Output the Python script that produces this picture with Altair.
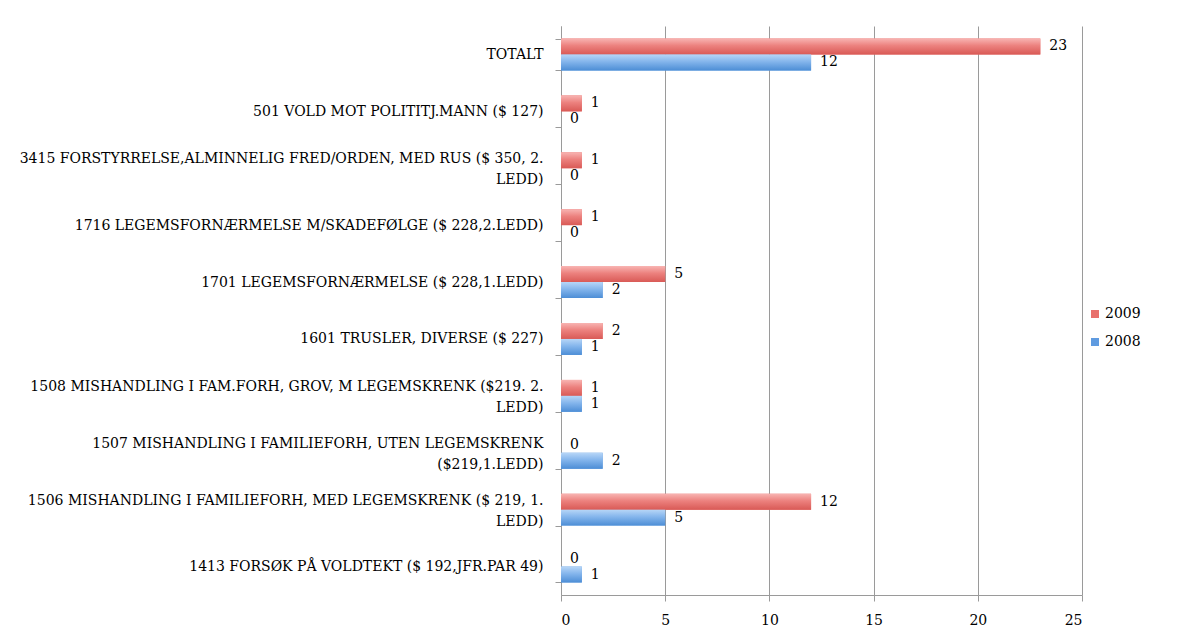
import altair as alt
import pandas as pd

categories = [
    "TOTALT",
    "501 VOLD MOT POLITITJ.MANN ($ 127)",
    "3415 FORSTYRRELSE,ALMINNELIG FRED/ORDEN, MED RUS ($ 350, 2.|LEDD)",
    "1716 LEGEMSFORNÆRMELSE M/SKADEFØLGE ($ 228,2.LEDD)",
    "1701 LEGEMSFORNÆRMELSE ($ 228,1.LEDD)",
    "1601 TRUSLER, DIVERSE ($ 227)",
    "1508 MISHANDLING I FAM.FORH, GROV, M LEGEMSKRENK ($219. 2.|LEDD)",
    "1507 MISHANDLING I FAMILIEFORH, UTEN LEGEMSKRENK|($219,1.LEDD)",
    "1506 MISHANDLING I FAMILIEFORH, MED LEGEMSKRENK ($ 219, 1.|LEDD)",
    "1413 FORSØK PÅ VOLDTEKT ($ 192,JFR.PAR 49)",
]
values_2009 = [23, 1, 1, 1, 5, 2, 1, 0, 12, 0]
values_2008 = [12, 0, 0, 0, 2, 1, 1, 2, 5, 1]
years = ["2009", "2008"]
x_ticks = [0, 5, 10, 15, 20, 25]

rows = []
for c, v9, v8 in zip(categories, values_2009, values_2008):
    rows.append({"category": c, "year": "2009", "value": v9})
    rows.append({"category": c, "year": "2008", "value": v8})
df = pd.DataFrame(rows)

FONT = "DejaVu Serif"
FS = 14
GRAY = "#9a9a9a"

red_grad = alt.Gradient(
    gradient="linear", x1=0, y1=0, x2=0, y2=1,
    stops=[alt.GradientStop(color="#f8b4b2", offset=0),
           alt.GradientStop(color="#ec817e", offset=0.45),
           alt.GradientStop(color="#d95a56", offset=1)],
)
blue_grad = alt.Gradient(
    gradient="linear", x1=0, y1=0, x2=0, y2=1,
    stops=[alt.GradientStop(color="#b7d6f7", offset=0),
           alt.GradientStop(color="#84b5ec", offset=0.45),
           alt.GradientStop(color="#4d8ed6", offset=1)],
)

yscale = alt.Scale(paddingInner=0.44, paddingOuter=0.22)

axis_single = alt.Axis(
    orient="left",
    labelExpr="indexof(datum.label, '|') >= 0 ? '' : datum.label",
    labelFont=FONT, labelFontSize=FS, labelColor="#000",
    labelLimit=0, labelPadding=12,
    tickBand="extent", tickSize=6, tickColor=GRAY,
    domainColor=GRAY, grid=False,
)
multi_expr = (
    "indexof(datum.label, '|') >= 0 ? "
    "[split(datum.label, '|')[0], "
    "pad(split(datum.label, '|')[1], length(split(datum.label, '|')[0]), '\u00a0', 'left')] : ''"
)
axis_multi = alt.Axis(
    orient="left",
    labelExpr=multi_expr,
    labelFont=FONT, labelFontSize=FS, labelColor="#000",
    labelLimit=0, labelPadding=18, labelLineHeight=21, labelOffset=-9,
    ticks=False, domain=False, grid=False,
)

xenc = alt.X(
    "value:Q",
    title=None,
    scale=alt.Scale(domain=[0, 25], nice=False),
    axis=alt.Axis(
        values=x_ticks, labelFont=FONT, labelFontSize=FS, labelColor="#000",
        labelPadding=12, tickSize=6, tickColor=GRAY,
        domainColor=GRAY, grid=True, gridColor=GRAY, gridWidth=1,
    ),
)
yoff = alt.YOffset("year:N", sort=years)


def yenc(axis):
    return alt.Y("category:N", sort=categories, title=None, scale=yscale, axis=axis)


legend_bars = alt.Chart(df).mark_bar().encode(
    x=xenc, y=yenc(axis_single), yOffset=yoff,
    color=alt.Color(
        "year:N",
        sort=years,
        scale=alt.Scale(domain=years, range=["#e8706c", "#5f9be0"]),
        legend=alt.Legend(
            title=None, orient="none", legendX=527, legendY=281,
            symbolType="square", symbolSize=64, symbolStrokeWidth=0,
            labelFont=FONT, labelFontSize=FS, labelColor="#000",
            rowPadding=14, labelOffset=3,
        ),
    ),
)

red_bars = alt.Chart(df).transform_filter(alt.datum.year == "2009").mark_bar(
    fill=red_grad
).encode(x=xenc, y=yenc(axis_multi), yOffset=yoff)

blue_bars = alt.Chart(df).transform_filter(alt.datum.year == "2008").mark_bar(
    fill=blue_grad
).encode(x=xenc, y=yenc(None), yOffset=yoff)

labels = alt.Chart(df).mark_text(
    align="left", baseline="middle", dx=9, font=FONT, fontSize=FS, color="#000"
).encode(x=xenc, y=yenc(None), yOffset=yoff, text="value:Q")

# decorative chart frame (left and top edges of the outer border)
frame_left = alt.Chart().mark_rule(color="#a8a8a8", strokeWidth=2).encode(
    x=alt.value(-555), y=alt.value(-19), y2=alt.value(620)
)
frame_top = alt.Chart().mark_rule(color="#a8a8a8", strokeWidth=2).encode(
    x=alt.value(-555), x2=alt.value(625), y=alt.value(-19)
)

chart = (
    alt.layer(frame_left, frame_top, legend_bars, red_bars, blue_bars, labels, data=df)
    .resolve_scale(y="shared")
    .resolve_axis(y="independent")
    .properties(
        width=521,
        height=569,
        autosize=alt.AutoSizeParams(type="none"),
        padding={"left": 553, "top": 18, "right": 92, "bottom": 40},
        background="white",
    )
    .configure_view(stroke=None)
)

chart.save("out.html", embed_options={"renderer": "svg", "actions": False})
